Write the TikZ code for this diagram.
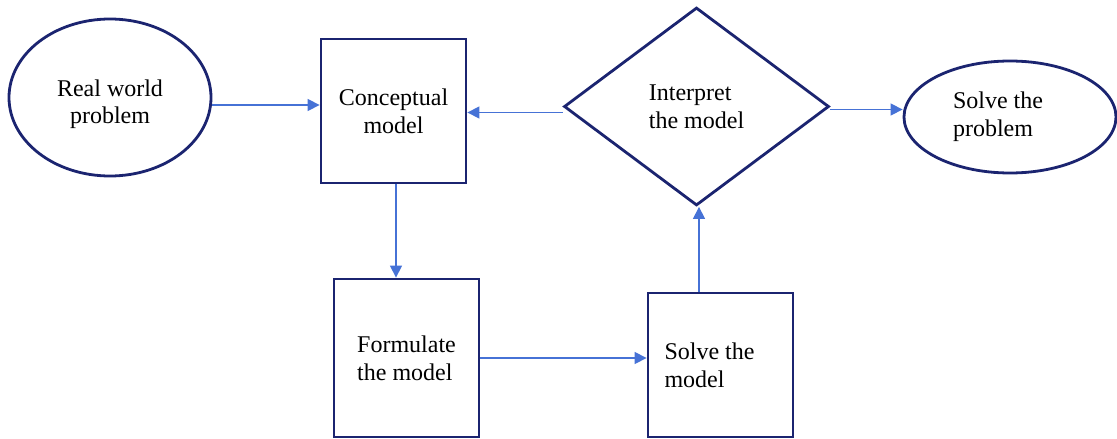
\documentclass[tikz,border=0pt]{standalone}
\usepackage{fontspec}
\setmainfont{Liberation Serif}
\usetikzlibrary{shapes.geometric,arrows.meta}
\definecolor{navy}{RGB}{27,36,112}
\definecolor{linkblue}{RGB}{70,114,214}
\begin{document}
\begin{tikzpicture}[x=1pt,y=-1pt,
  every node/.style={font=\fontsize{24}{27.6}\selectfont, text=black, inner sep=0pt},
  shapebase/.style={draw=navy, line width=2.8pt, fill=white},
  oval/.style={shapebase, ellipse},
  box/.style={shapebase, rectangle},
  decision/.style={shapebase, diamond},
  arr/.style={draw=linkblue, line width=1.3pt, -{Triangle[length=12pt,width=12pt]}}]
\useasboundingbox (0,0) rectangle (1117,439);
\node[oval, minimum width=202pt, minimum height=157pt, align=center] (rw) at (110,97.5) {\rule{0pt}{30pt}Real world\\problem};
\node[box, minimum width=145pt, minimum height=144pt, align=center] (cm) at (393.5,111) {Conceptual\\model};
\node[decision, minimum width=265pt, minimum height=198pt, align=left] (ip) at (696.5,106.5) {Interpret\\the model};
\node[oval, minimum width=212pt, minimum height=112pt, align=left] (sp) at (1010,117) {Solve the\hspace*{24pt}\\problem};
\node[box, minimum width=145pt, minimum height=158pt, align=left] (fm) at (406.5,358) {Formulate\\the model};
\node[box, minimum width=145pt, minimum height=144pt, align=left] (sm) at (720.5,365) {Solve the\hspace*{22pt}\\model};
\draw[arr] ([yshift=-7.5pt]rw.east) -- ([yshift=-7.5pt]rw.east -| cm.west);
\draw[arr] ([yshift=-6pt]ip.west) -- ([yshift=-6pt]ip.west -| cm.east);
\draw[arr] ([yshift=-3pt]ip.east) -- ([yshift=-3pt]ip.east -| sp.west);
\draw[arr] ([xshift=2.5pt]cm.south) -- ([xshift=2.5pt]cm.south |- fm.north);
\draw[arr] (fm.east) -- (fm.east -| sm.west);
\draw[arr] ([xshift=2.5pt]ip.south |- sm.north) -- ([xshift=2.5pt]ip.south);
\end{tikzpicture}
\end{document}
